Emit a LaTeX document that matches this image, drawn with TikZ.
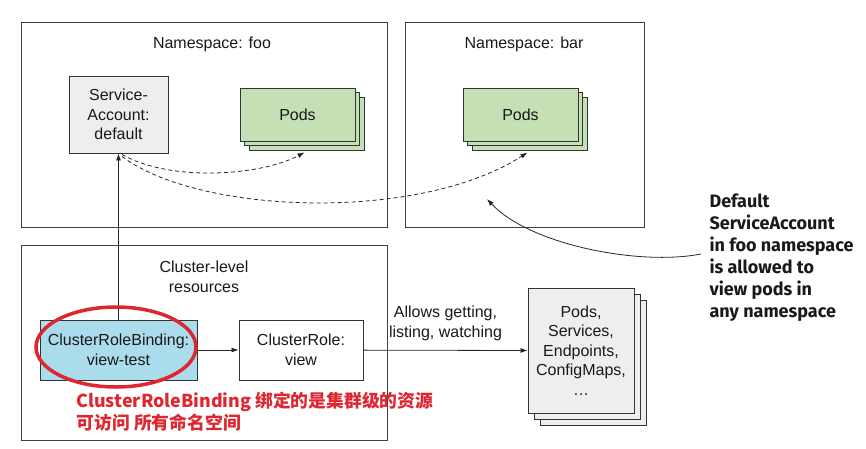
\documentclass[tikz,border=0pt]{standalone}
\usepackage{fontspec}
\setmainfont{Liberation Sans}
\newfontfamily\notefont{Fira Sans}
\newfontfamily\cjk{Noto Sans CJK SC}
\usetikzlibrary{arrows.meta,shapes.geometric,shadows}
\definecolor{podgreen}{RGB}{197,224,180}
\definecolor{crbblue}{RGB}{170,220,236}
\definecolor{boxgray}{RGB}{238,238,238}
\definecolor{markred}{RGB}{222,38,48}
\tikzset{
% area boxes and the boxes inside them
ns box/.style={draw=black!75,line width=1pt},
item box/.style={draw=black!80,line width=0.9pt,align=center,inner sep=0},
pod stack/.style={item box,fill=podgreen,double copy shadow={shadow xshift=4.5pt,shadow yshift=-4.5pt}},
res stack/.style={item box,fill=boxgray,double copy shadow={shadow xshift=6pt,shadow yshift=-6pt}},
link/.style={draw=black!85,line width=0.8pt,-{Latex[length=7pt,width=5pt]}},
dash link/.style={link,dashed,dash pattern=on 4pt off 3pt}
}

\begin{document}
\begin{tikzpicture}[x=1pt,y=-1pt,font=\fontsize{16}{19.5}\selectfont,text=black!90]
        \useasboundingbox (0,0) rectangle (866,449);
        % Namespaces and the cluster
        \node(foo)[ns box,minimum width=366,minimum height=204] at (204,125){};
        \node(bar)[ns box,minimum width=239,minimum height=204] at (524.5,125){};
        \node(cluster)[ns box,minimum width=366,minimum height=195] at (204,342.5){};
        \node(foolabel) at (212,44){Namespace: foo};
        \node(barlabel) at (524,44){Namespace: bar};
        \node(clusterlabel)[align=center] at (204,277){Cluster-level\\resources};
        % Boxes
        \node(account)[item box,fill=boxgray,minimum width=99,minimum height=77] at (118.5,114.5){Service-\\Account:\\default};
        \node(podsfoo)[pod stack,minimum width=115,minimum height=53] at (297.5,114.5){Pods};
        \node(podsbar)[pod stack,minimum width=115,minimum height=53] at (520.5,114.5){Pods};
        \node(binding)[item box,fill=crbblue,minimum width=157,minimum height=60] at (118.5,350){ClusterRoleBinding:\\view-test};
        \node(role)[item box,fill=white,minimum width=124,minimum height=60] at (301,350){ClusterRole:\\view};
        \node(res)[res stack,minimum width=106,minimum height=125] at (581,350.5){Pods,\\Services,\\Endpoints,\\ConfigMaps,\\\dots};
        % Connectors
        \coordinate(start1) at ([xshift=3.5pt,yshift=-1pt]account.south);
        \coordinate(start2) at ([xshift=3.5pt,yshift=-3pt]account.south);
        \coordinate(tip1) at ([xshift=7pt,yshift=-11pt]podsfoo.south);
        \coordinate(tip2) at ([xshift=7pt,yshift=-11pt]podsbar.south);
        \draw[dash link](start1) .. controls (170,182) and (260,176) .. (tip1);
        \draw[dash link](start2) .. controls (200,215) and (420,222) .. (tip2);
        \draw[link](binding.north) -- (account.south);
        \draw[link](binding) -- (role);
        \draw[link](role) -- (res.west)
          node[midway,above=6pt,align=center,font=\fontsize{16}{20}\selectfont]{Allows getting,\\listing, watching};
        % Side note
        \node(note)[anchor=west,align=left,font=\notefont\bfseries\fontsize{18}{22}\selectfont] at (706,258)
          {Default\\ServiceAccount\\in foo namespace\\is allowed to\\view pods in\\any namespace};
        \coordinate(noteend) at (701,254);
        \coordinate(notetip) at (487,199);
        \draw[link](noteend) .. controls (640,266) and (530,245) .. (notetip);
        % Red mark
        \node(ring)[draw=markred,ellipse,line width=3.5pt,minimum width=160,minimum height=80] at (116,347){};
        \node(marktext)[anchor=west,align=left,text=markred,font=\cjk\bfseries\fontsize{17.8}{22}\selectfont] at (73,412)
          {ClusterRoleBinding 绑定的是集群级的资源\\可访问 所有命名空间};
      \end{tikzpicture}
\end{document}
